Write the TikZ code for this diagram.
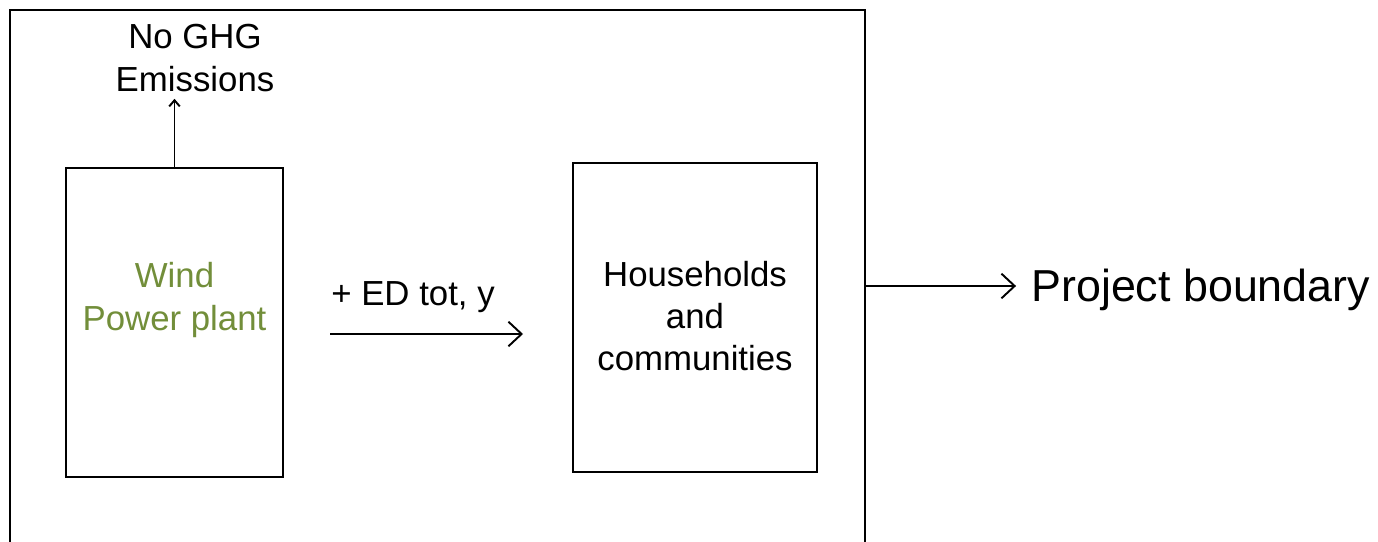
\documentclass[tikz,border=0pt]{standalone}
\usepackage{fontspec}
\setmainfont{Liberation Sans}
\usetikzlibrary{arrows.meta,positioning}

\definecolor{windgreen}{RGB}{114,142,58}

\tikzset{
  blockbox/.style={draw, line width=1.1pt, inner sep=0pt},
  flowarrow/.style={line width=1.1pt, -{Straight Barb[length=7.5pt,width=14pt,line width=1.1pt]}},
  smallarrow/.style={line width=1.1pt, -{Straight Barb[length=3.5pt,width=6pt,line width=1.1pt]}},
  bigtext/.style={font=\fontsize{25.5}{30}\selectfont, inner sep=0pt},
  labeltext/.style={font=\fontsize{19.8}{24}\selectfont, align=center, inner sep=0pt}
}

\begin{document}
\begin{tikzpicture}[x=0.02cm, y=-0.02cm]

% Page frame (the outer box runs off the bottom edge)
\useasboundingbox (0,0) rectangle (1378,541);
\clip (0,0) rectangle (1378,541);

% Project boundary
\draw[line width=1.1pt] (10,560) -- (10,10) -- (865,10) -- (865,560);
\coordinate (boundE) at (865,286);

% Blocks
\node[blockbox, minimum width=217*0.02cm, minimum height=309*0.02cm] (wind) at (174.5,322.5) {};
\node[labeltext, text=windgreen] (windlabel) at (174.5,300) {Wind\\Power plant};

\node[blockbox, minimum width=244*0.02cm, minimum height=309*0.02cm] (house) at (695,317.5) {};
\node[labeltext] (houselabel) at (695,316) {Households\\and\\communities};

% Emissions
\node[labeltext] (emis) at (195,58) {No GHG\\Emissions};
\draw[smallarrow, shorten >=4pt] (wind.north) -- (wind.north |- emis.south);

% Energy delivered
\coordinate (edstart) at (330,334);
\coordinate (edend) at (523,334);
\draw[flowarrow] (edstart) -- (edend);
\node[labeltext] (edlabel) at (413,297) {+ ED tot, y};

% Legend
\node[bigtext, anchor=west] (pb) at (1031,290) {Project boundary};
\draw[flowarrow] (boundE) -- ([xshift=-8.5pt]pb.west |- boundE);

\end{tikzpicture}
\end{document}
